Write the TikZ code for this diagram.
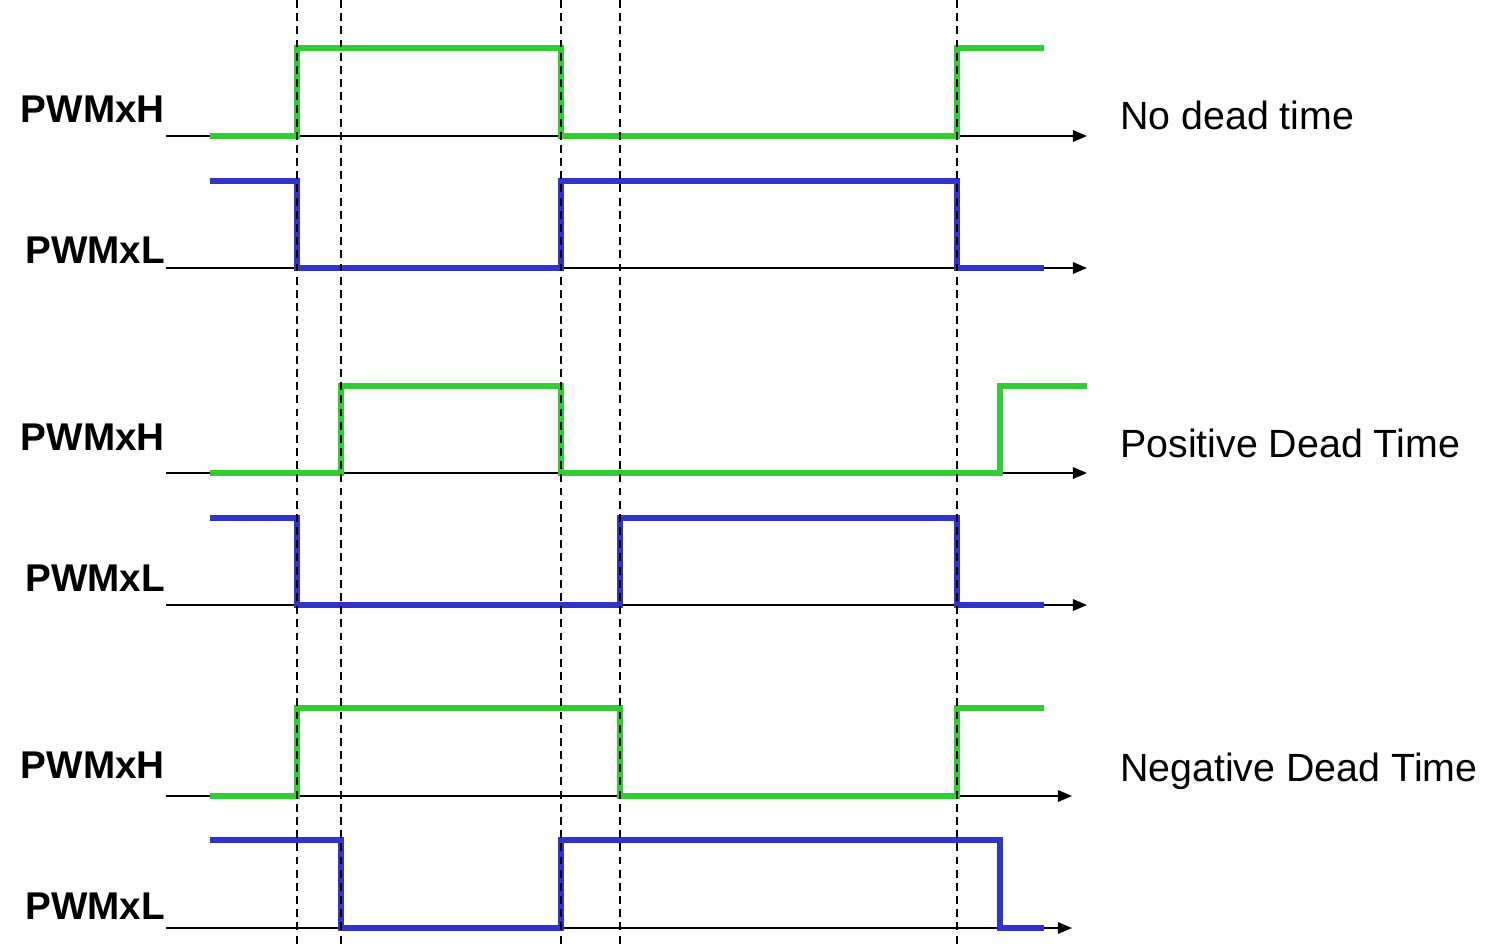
\documentclass[tikz,border=0pt]{standalone}
\usepackage{fontspec}
\setmainfont{Liberation Sans}
\usetikzlibrary{arrows.meta}
\definecolor{pwmgreen}{RGB}{50,205,50}
\definecolor{pwmblue}{RGB}{50,50,205}
\tikzset{
  axis/.style={line width=1.1pt,-{Triangle[length=8pt,width=6.5pt]}},
  hsig/.style={pwmgreen,line width=3.6pt},
  lsig/.style={pwmblue,line width=3.6pt},
  edge/.style={line width=0.8pt,dash pattern=on 4.5pt off 3pt},
  sig/.style={font=\bfseries\fontsize{22}{24}\selectfont,anchor=east},
  mode/.style={font=\fontsize{22.4}{25}\selectfont,anchor=west}
}
\begin{document}
\begin{tikzpicture}[x=0.02cm,y=-0.02cm]
	\useasboundingbox (0,0) rectangle (1500,947);
	% axes
	\draw[axis] (166,136) -- (1087,136);
	\draw[axis] (166,268) -- (1087,268);
	\draw[axis] (166,473) -- (1087,473);
	\draw[axis] (166,605) -- (1087,605);
	\draw[axis] (166,796) -- (1072,796);
	\draw[axis] (166,928) -- (1072,928);
	% no dead time
	\draw[hsig] (210,136) -- (297,136) -- (297,48) -- (561,48) -- (561,136) -- (957,136) -- (957,48) -- (1044,48);
	\draw[lsig] (210,181) -- (297,181) -- (297,268) -- (561,268) -- (561,181) -- (957,181) -- (957,268) -- (1044,268);
	% positive dead time
	\draw[hsig] (210,473) -- (341,473) -- (341,386) -- (561,386) -- (561,473) -- (1000,473) -- (1000,386) -- (1087,386);
	\draw[lsig] (210,518) -- (297,518) -- (297,605) -- (620,605) -- (620,518) -- (957,518) -- (957,605) -- (1044,605);
	% negative dead time
	\draw[hsig] (210,796) -- (297,796) -- (297,708) -- (620,708) -- (620,796) -- (957,796) -- (957,708) -- (1044,708);
	\draw[lsig] (210,840) -- (341,840) -- (341,928) -- (561,928) -- (561,840) -- (1000,840) -- (1000,928) -- (1044,928);
	% switching instants
	\foreach \t in {297,341,561,620,957}
		\draw[edge] (\t,0) -- (\t,947);
	% labels
	\node[sig] (h1) at (171,109) {PWMxH};
	\node[sig] (l1) at (171,250) {PWMxL};
	\node[sig] (h2) at (171,437) {PWMxH};
	\node[sig] (l2) at (171,578) {PWMxL};
	\node[sig] (h3) at (171,765) {PWMxH};
	\node[sig] (l3) at (171,906) {PWMxL};
	\node[mode] (none) at (1114,115) {No dead time};
	\node[mode] (pos) at (1114,443) {Positive Dead Time};
	\node[mode] (neg) at (1114,771) {Negative Dead Time};
\end{tikzpicture}
\end{document}
